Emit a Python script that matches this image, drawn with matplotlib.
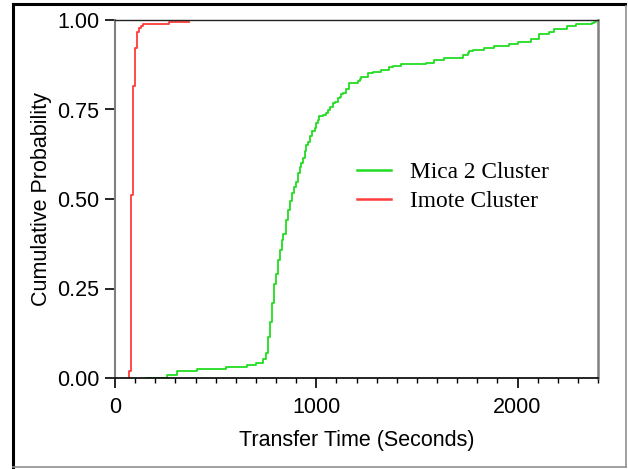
import matplotlib
matplotlib.use("Agg")
import matplotlib.pyplot as plt
from matplotlib.ticker import MultipleLocator, FixedLocator
from matplotlib.lines import Line2D

# Step points: x (seconds), cumulative probability after the step
imote_x = [70, 70, 78, 88, 99, 108, 118, 129, 140, 268, 367]
imote_y = [0.0, 0.02, 0.511, 0.816, 0.921, 0.967, 0.977, 0.983, 0.989, 0.994, 0.994]

mica_x = [157, 259, 309, 408, 550, 656, 703, 735, 752, 762, 772, 780, 790, 798,
          810, 818, 828, 834, 848, 859, 871, 881, 889, 897, 909, 917, 926, 934,
          942, 950, 960, 970, 980, 992, 1000, 1008, 1016, 1033, 1046, 1058, 1066,
          1083, 1091, 1108, 1116, 1125, 1133, 1149, 1165, 1206, 1215, 1223, 1256,
          1281, 1322, 1363, 1380, 1421, 1545, 1587, 1636, 1727, 1752, 1760, 1777,
          1834, 1884, 1958, 2000, 2066, 2107, 2157, 2181, 2248, 2289, 2371, 2380, 2392]
mica_y = [0.0, 0.008, 0.020, 0.025, 0.031, 0.035, 0.043, 0.053, 0.069, 0.114,
          0.157, 0.209, 0.263, 0.290, 0.330, 0.358, 0.385, 0.402, 0.441, 0.469,
          0.495, 0.516, 0.534, 0.548, 0.573, 0.590, 0.600, 0.615, 0.635, 0.651,
          0.660, 0.675, 0.690, 0.698, 0.712, 0.721, 0.731, 0.735, 0.740, 0.749,
          0.756, 0.767, 0.772, 0.781, 0.786, 0.793, 0.797, 0.806, 0.823, 0.830,
          0.835, 0.840, 0.851, 0.856, 0.860, 0.868, 0.872, 0.877, 0.881, 0.888,
          0.895, 0.902, 0.908, 0.913, 0.916, 0.922, 0.927, 0.933, 0.939, 0.946,
          0.961, 0.966, 0.975, 0.982, 0.988, 0.992, 0.995, 0.997]

series_labels = ["Mica 2 Cluster", "Imote Cluster"]
x_major = [0, 1000, 2000]
y_major = [0.00, 0.25, 0.50, 0.75, 1.00]

GREEN = "#22dd22"
RED = "#ff3b3b"

fig = plt.figure(figsize=(6.28, 4.69), dpi=100)
ax = fig.add_axes([115 / 628, 1 - 378 / 469, (598 - 115) / 628, (378 - 20) / 469])

ax.step(mica_x, mica_y, where="post", color=GREEN, lw=1.3)
ax.step(imote_x, imote_y, where="post", color=RED, lw=1.3)

ax.set_xlim(0, 2400)
ax.set_ylim(0, 1.0)
ax.xaxis.set_major_locator(FixedLocator(x_major))
ax.xaxis.set_minor_locator(MultipleLocator(100))
ax.yaxis.set_major_locator(FixedLocator(y_major))
ax.set_yticklabels([f"{v:.2f}" for v in y_major])

tickfont = "Liberation Sans"
for lab in ax.get_xticklabels() + ax.get_yticklabels():
    lab.set_fontfamily(tickfont)
    lab.set_fontsize(15.5)

ax.tick_params(axis="both", which="major", direction="out", length=7.5, width=1.2,
               color="black")
ax.tick_params(axis="x", which="major", pad=6)
ax.tick_params(axis="y", which="major", pad=4)
ax.tick_params(axis="x", which="minor", direction="out", length=3.5, width=1.0,
               color="black")

ax.set_xlabel("Transfer Time (Seconds)", fontfamily=tickfont, fontsize=15.5, labelpad=9)
ax.set_ylabel("Cumulative Probability", fontfamily=tickfont, fontsize=15.5, labelpad=3)

ax.spines["left"].set_color("#808080")
ax.spines["left"].set_linewidth(1.5)
ax.spines["right"].set_color("#808080")
ax.spines["right"].set_linewidth(1.8)
ax.spines["top"].set_color("#222222")
ax.spines["top"].set_linewidth(1.0)
ax.spines["bottom"].set_color("black")
ax.spines["bottom"].set_linewidth(1.2)

handles = [Line2D([], [], color=GREEN, lw=1.8), Line2D([], [], color=RED, lw=1.8)]
leg = ax.legend(handles, series_labels, loc="center left",
                bbox_to_anchor=((357 - 115) / 483, (378 - 187) / 358),
                frameon=False, borderpad=0, borderaxespad=0,
                handlelength=1.45, handletextpad=0.8, labelspacing=0.3,
                prop={"family": "Liberation Serif", "size": 16.8})

# outer frame of the figure
fig.add_artist(Line2D([13 / 628, 625 / 628], [1 - 4 / 469, 1 - 4 / 469],
                      transform=fig.transFigure, color="black", lw=2.2))
fig.add_artist(Line2D([13 / 628, 13 / 628], [1 - 4 / 469, 1 - 467 / 469],
                      transform=fig.transFigure, color="black", lw=2.2))
fig.add_artist(Line2D([626 / 628, 626 / 628], [1 - 6 / 469, 1 - 467 / 469],
                      transform=fig.transFigure, color="#909090", lw=1.2))
fig.add_artist(Line2D([13 / 628, 626 / 628], [1 - 467 / 469, 1 - 467 / 469],
                      transform=fig.transFigure, color="#909090", lw=1.2))

fig.savefig("out.png", dpi=100)
